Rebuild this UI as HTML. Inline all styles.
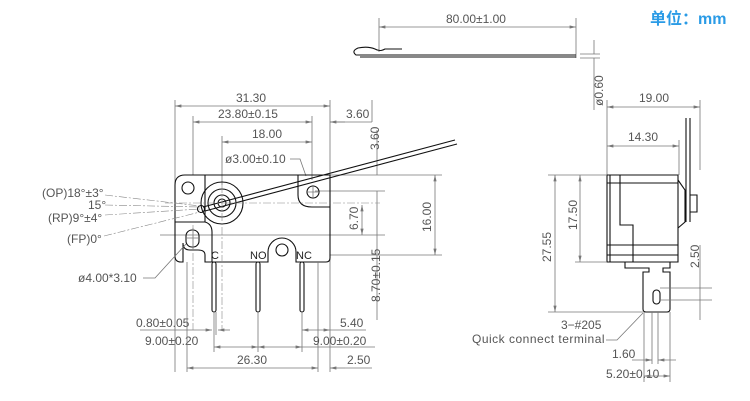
<!DOCTYPE html>
<html><head><meta charset="utf-8"><style>
html,body{margin:0;padding:0;background:#fff;width:750px;height:401px;overflow:hidden}
svg{display:block}
text{font-family:"Liberation Sans",sans-serif;font-size:12px;fill:#555}
.d{stroke:#777;stroke-width:0.8;fill:none}
.b{stroke:#111;stroke-width:1.1;fill:none}
.c{stroke:#888;stroke-width:0.6;fill:none;stroke-dasharray:8 2 2 2}
</style></head><body>
<svg width="750" height="401" viewBox="0 0 750 401" xmlns="http://www.w3.org/2000/svg">
<defs><marker id="a" viewBox="0 0 8 4" refX="8" refY="2" markerWidth="8" markerHeight="4" orient="auto-start-reverse"><path d="M0,0L8,2L0,4z" fill="#777"/></marker></defs>
<text x="650" y="24" style="font-family:'Liberation Sans','Noto Sans CJK SC',sans-serif;font-size:16px;font-weight:bold;fill:#2a9be6">单位：mm</text>

<!-- wire top -->
<path class="d" d="M379,18V52M576,18V58" />
<line class="d" x1="379" y1="27" x2="576" y2="27" marker-start="url(#a)" marker-end="url(#a)"/>
<text x="446" y="23">80.00±1.00</text>
<path class="b" d="M402,49H385Q380,52 375,49Q368,46 358,48Q351,51 356,55H576" />
<line class="b" x1="360" y1="57" x2="576" y2="57"/>
<path class="d" d="M580,54H600M580,58H600M594,40V54M594,58V110"/>
<text transform="translate(603,106) rotate(-90)">ø0.60</text>

<!-- main view dims -->
<path class="d" d="M175,100V372M330,100V372M193,116V175M312,116V180M222,136V185M330,122H372M372,122V100"/>
<line class="d" x1="175" y1="106" x2="330" y2="106" marker-start="url(#a)" marker-end="url(#a)"/>
<text x="236" y="102">31.30</text>
<line class="d" x1="193" y1="122" x2="312" y2="122" marker-start="url(#a)" marker-end="url(#a)"/>
<text x="218" y="118">23.80±0.15</text>
<line class="d" x1="345" y1="122" x2="330" y2="122" marker-end="url(#a)"/>
<text x="346" y="118">3.60</text>
<line class="d" x1="222" y1="142" x2="312" y2="142" marker-start="url(#a)" marker-end="url(#a)"/>
<text x="252" y="138">18.00</text>
<text x="225" y="163">ø3.00±0.10</text>
<path class="d" d="M290,159H300L306,176"/>
<path class="d" d="M377,130V175"/>
<text transform="translate(379,150) rotate(-90)">3.60</text>
<path class="d" d="M330,175H442M330,255H442M315,191H385M160,235H385"/>
<line class="d" x1="435" y1="175" x2="435" y2="255" marker-start="url(#a)" marker-end="url(#a)"/>
<text transform="translate(431,232) rotate(-90)">16.00</text>
<line class="d" x1="362" y1="205" x2="362" y2="235" marker-start="url(#a)" marker-end="url(#a)"/>
<text transform="translate(358,230) rotate(-90)">6.70</text>
<path class="d" d="M377,191V320"/>
<text transform="translate(380,302) rotate(-90)">8.70±0.15</text>

<!-- body -->
<path class="b" d="M185,175H330V258Q330,262 326,262H296V252A14,14 0 0 0 268,252V262H205V255Q205,250 198,250H190Q183,250 183,243V262H181Q175,262 175,256V185Q175,175 185,175Z"/>
<path class="b" d="M205,175V222H175M205,222Q212,224 212,232V262M298,175V195Q298,207 312,207H330"/>
<circle class="b" cx="188" cy="188" r="6"/>
<circle class="b" cx="222" cy="203" r="21"/>
<circle class="b" cx="222" cy="203" r="14"/>
<circle class="b" cx="222" cy="203" r="8"/>
<circle class="b" cx="222" cy="203" r="4"/>
<circle class="b" cx="313" cy="192" r="6"/>
<path class="d" d="M306,192H320M313,185V199"/>
<circle class="b" cx="282" cy="250" r="6"/>
<rect class="b" x="186" y="230" width="13" height="17" rx="6"/>
<path class="d" d="M186,238H200M193,228V250"/>
<circle class="b" cx="201" cy="209" r="3.5"/>
<!-- lever -->
<path class="b" d="M203,207L455,140M205,211L457,144"/>
<path class="c" d="M165,203H380M222,185V330M193,225V330"/>
<!-- terminals -->
<g class="b">
<rect x="212" y="262" width="4" height="50" rx="2"/>
<rect x="256" y="262" width="4" height="50" rx="2"/>
<rect x="300" y="262" width="4" height="50" rx="2"/>
</g>
<text x="211" y="259" style="font-size:11px;fill:#222">C</text>
<text x="250" y="259" style="font-size:11px;fill:#222">NO</text>
<text x="296" y="259" style="font-size:11px;fill:#222">NC</text>

<!-- angle labels -->
<text x="42" y="197">(OP)18°±3°</text>
<text x="88" y="209">15°</text>
<text x="48" y="222">(RP)9°±4°</text>
<text x="67" y="243">(FP)0°</text>
<path class="c" d="M105,195L200,206M105,205L200,207M105,215L200,209M104,236L200,212"/>
<text x="78" y="282">ø4.00*3.10</text>
<path class="d" d="M143,278H155L186,244"/>

<!-- bottom dims -->
<path class="d" d="M214,312V335M216,312V335M258,312V352M302,312V352M318,262V372M214,335V352"/>
<text x="136" y="327">0.80±0.05</text>
<line class="d" x1="140" y1="330" x2="212" y2="330" marker-end="url(#a)"/>
<line class="d" x1="230" y1="330" x2="218" y2="330" marker-end="url(#a)"/>
<text x="145" y="345">9.00±0.20</text>
<line class="d" x1="214" y1="347" x2="258" y2="347" marker-start="url(#a)" marker-end="url(#a)"/>
<line class="d" x1="258" y1="347" x2="302" y2="347" marker-start="url(#a)" marker-end="url(#a)"/>
<path class="d" d="M302,347H375"/>
<text x="313" y="345">9.00±0.20</text>
<line class="d" x1="302" y1="330" x2="330" y2="330" marker-start="url(#a)" marker-end="url(#a)"/>
<path class="d" d="M330,330H366"/>
<text x="340" y="327">5.40</text>
<line class="d" x1="187" y1="368" x2="318" y2="368" marker-start="url(#a)" marker-end="url(#a)"/>
<text x="237" y="364">26.30</text>
<line class="d" x1="345" y1="368" x2="330" y2="368" marker-end="url(#a)"/>
<path class="d" d="M345,368H372"/>
<text x="347" y="364">2.50</text>
<path class="d" d="M187,262V372"/>

<!-- side view -->
<path class="d" d="M607,100V175M700,100V170M679,140V175"/>
<line class="d" x1="607" y1="107" x2="700" y2="107" marker-start="url(#a)" marker-end="url(#a)"/>
<text x="639" y="102">19.00</text>
<line class="d" x1="607" y1="146" x2="679" y2="146" marker-start="url(#a)" marker-end="url(#a)"/>
<text x="628" y="141">14.30</text>
<path class="b" d="M607,175H678V262H607Z"/>
<path class="b" d="M607,183H678M610,175V262M620,175V225H633V262M607,245H678M607,255H678M678,180L685,190V222L678,228M625,262V268H649V272H643V309Q643,312 646,312H667Q670,312 670,309V272H663V268H670V262"/>
<path class="b" d="M686,118V222M690,118V222M690,195H697V212H690"/>
<rect class="b" x="653" y="290" width="7" height="14" rx="3.5"/>
<path class="d" d="M548,175H607M548,312H643M575,262H607"/>
<line class="d" x1="555" y1="175" x2="555" y2="312" marker-start="url(#a)" marker-end="url(#a)"/>
<text transform="translate(551,262) rotate(-90)">27.55</text>
<line class="d" x1="580" y1="175" x2="580" y2="262" marker-start="url(#a)" marker-end="url(#a)"/>
<text transform="translate(577,230) rotate(-90)">17.50</text>
<path class="d" d="M660,288H712M660,300H712M700,245V320"/>
<text transform="translate(699,268) rotate(-90)">2.50</text>
<text x="561" y="329">3−#205</text>
<text x="472" y="343" style="letter-spacing:0.5px">Quick connect terminal</text>
<path class="d" d="M606,340H617L643,313"/>
<path class="d" d="M644,312V382M652,312V364M658,312V364M670,312V382"/>
<text x="612" y="358">1.60</text>
<line class="d" x1="632" y1="360" x2="652" y2="360" marker-end="url(#a)"/>
<line class="d" x1="676" y1="360" x2="658" y2="360" marker-end="url(#a)"/>
<text x="606" y="378">5.20±0.10</text>
<line class="d" x1="644" y1="376" x2="670" y2="376" marker-start="url(#a)" marker-end="url(#a)"/>
</svg>
</body></html>
